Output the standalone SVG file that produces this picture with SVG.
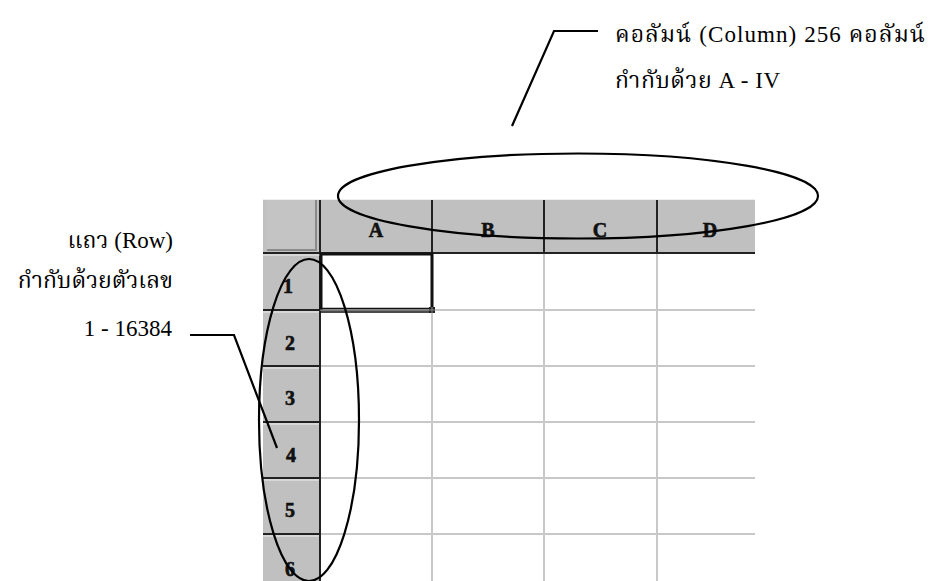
<svg xmlns="http://www.w3.org/2000/svg" width="933" height="581" viewBox="0 0 933 581">
  <style>
    .lbl { font-family: "Liberation Serif", "Times New Roman", "Noto Serif Thai", "Norasi", "Kinnari", "Noto Sans Thai Looped", serif; font-size: 23px; fill: #000; }
    .hdr { font-family: "Liberation Serif", "Times New Roman", serif; font-size: 20px; font-weight: bold; fill: #111; stroke: #111; stroke-width: 0.6; text-anchor: middle; }
    .grid { stroke: #c8c8c8; stroke-width: 2; fill: none; }
    .dark { stroke: #222; stroke-width: 2; fill: none; }
    .hi { stroke: #eeeeee; stroke-width: 1; fill: none; }
    .ink { stroke: #000; stroke-width: 2.2; fill: none; }
  </style>
  <rect width="933" height="581" fill="#fff"/>

  <!-- worksheet -->
  <g id="sheet">
    <!-- header band and row header column -->
    <rect x="263" y="200" width="492" height="53" fill="#c0c0c0"/>
    <rect x="263" y="253" width="57" height="328" fill="#c0c0c0"/>
    <!-- corner button -->
    <rect x="267" y="200" width="49" height="50" fill="#c4c4c4"/>
    <path d="M267 250 H316 V200" stroke="#8a8a8a" stroke-width="2" fill="none"/>
    <path d="M263 199.5 H755" class="hi"/>

    <!-- cell grid -->
    <path class="grid" d="M432 253 V581 M544 253 V581 M657 253 V581
                          M320 310 H755 M320 366 H755 M320 422 H755 M320 478 H755 M320 534 H755"/>

    <!-- header dividers -->
    <path class="dark" d="M320 200 V581 M432 200 V253 M544 200 V253 M657 200 V253 M263 253 H755"/>
    <path class="hi" d="M263 255 H320"/>
    <path class="dark" d="M263 310 H320 M263 366 H320 M263 422 H320 M263 478 H320 M263 534 H320"/>
    <path class="hi" d="M263 312 H319 M263 368 H319 M263 424 H319 M263 480 H319 M263 536 H319"/>

    <!-- column letters -->
    <text class="hdr" x="376" y="237">A</text>
    <text class="hdr" x="488" y="237">B</text>
    <text class="hdr" x="600" y="237">C</text>
    <text class="hdr" x="710" y="237">D</text>

    <!-- row numbers -->
    <text class="hdr" x="288" y="293">1</text>
    <text class="hdr" x="290" y="350">2</text>
    <text class="hdr" x="290" y="405">3</text>
    <text class="hdr" x="291" y="462">4</text>
    <text class="hdr" x="290" y="517">5</text>
    <text class="hdr" x="290" y="576">6</text>

    <!-- active cell A1 -->
    <path d="M321 253 V310 M320 254 H433 M432 253 V307" stroke="#111" stroke-width="3" fill="none"/>
    <path d="M320 308.5 H429 M320 312 H429" stroke="#111" stroke-width="1.5" fill="none"/>
    <path d="M320 310.2 H429" stroke="#777" stroke-width="1.5" fill="none"/>
    <rect x="429" y="307" width="6" height="6" fill="#222"/>
    <path d="M429 310 H435 M432 307 V313" stroke="#888" stroke-width="1"/>
  </g>

  <!-- callout outlines and leaders -->
  <g id="connectors">
    <ellipse class="ink" cx="578" cy="196" rx="240" ry="42.5"/>
    <ellipse class="ink" cx="309" cy="420" rx="50" ry="161"/>
    <path class="ink" d="M512 126 L554 31 H598"/>
    <path class="ink" d="M190 335 H234 L277 448"/>
  </g>

  <!-- captions -->
  <g id="column-label">
    <text class="lbl" x="615" y="42" textLength="310" lengthAdjust="spacing">คอลัมน์ (Column) 256 คอลัมน์</text>
    <text class="lbl" x="615" y="88" textLength="165" lengthAdjust="spacing">กำกับด้วย A - IV</text>
  </g>
  <g id="row-label">
    <text class="lbl" x="173" y="248" text-anchor="end">แถว (Row)</text>
    <text class="lbl" x="173" y="288" text-anchor="end">กำกับด้วยตัวเลข</text>
    <text class="lbl" x="172" y="336" text-anchor="end">1 - 16384</text>
  </g>
</svg>
